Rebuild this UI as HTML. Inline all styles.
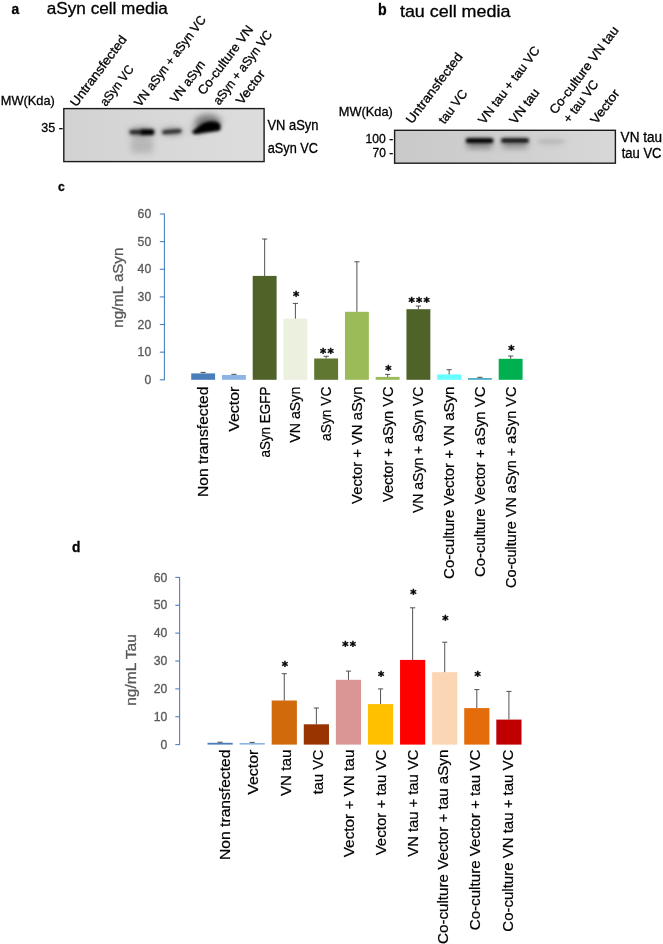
<!DOCTYPE html>
<html><head><meta charset="utf-8"><title>Figure</title>
<style>
html,body{margin:0;padding:0;background:#fff;}
svg{display:block;font-family:"Liberation Sans",sans-serif;}
</style></head><body>
<svg width="663" height="944" viewBox="0 0 663 944">
<defs>
<linearGradient id="ga" x1="0" x2="1" y1="0" y2="0"><stop offset="0" stop-color="#d2d2d2"/><stop offset="0.5" stop-color="#d8d8d8"/><stop offset="1" stop-color="#dddddd"/></linearGradient>
<linearGradient id="gb" x1="0" x2="1" y1="0" y2="0"><stop offset="0" stop-color="#c9c9c9"/><stop offset="0.6" stop-color="#d1d1d1"/><stop offset="1" stop-color="#d8d8d8"/></linearGradient>
<filter id="b2" x="-20%" y="-200%" width="140%" height="500%"><feGaussianBlur stdDeviation="1.5"/></filter>
<filter id="b4" x="-50%" y="-200%" width="200%" height="500%"><feGaussianBlur stdDeviation="3.2"/></filter>
</defs>
<rect width="663" height="944" fill="#fff"/>
<text transform="translate(11.50,13.60) rotate(0)" font-size="14.40" text-anchor="start" fill="#000" stroke="#000" stroke-width="0.3" font-weight="bold" textLength="7.66" lengthAdjust="spacingAndGlyphs">a</text>
<text transform="translate(46.80,13.60) rotate(0)" font-size="16.21" text-anchor="start" fill="#000" stroke="#000" stroke-width="0.3" font-weight="normal" textLength="121.00" lengthAdjust="spacingAndGlyphs">aSyn cell media</text>
<text transform="translate(378.00,15.20) rotate(0)" font-size="15.67" text-anchor="start" fill="#000" stroke="#000" stroke-width="0.3" font-weight="bold" textLength="8.66" lengthAdjust="spacingAndGlyphs">b</text>
<text transform="translate(399.90,17.20) rotate(0)" font-size="16.21" text-anchor="start" fill="#000" stroke="#000" stroke-width="0.3" font-weight="normal" textLength="110.50" lengthAdjust="spacingAndGlyphs">tau cell media</text>
<text transform="translate(58.10,190.50) rotate(0)" font-size="13.44" text-anchor="start" fill="#000" stroke="#000" stroke-width="0.3" font-weight="bold" textLength="6.77" lengthAdjust="spacingAndGlyphs">c</text>
<text transform="translate(72.10,551.90) rotate(0)" font-size="14.40" text-anchor="start" fill="#000" stroke="#000" stroke-width="0.3" font-weight="bold" textLength="8.40" lengthAdjust="spacingAndGlyphs">d</text>
<rect x="64" y="108" width="200" height="53" fill="url(#ga)"/>
<g filter="url(#b4)">
<rect x="131" y="138" width="22" height="15" fill="#000" opacity="0.15"/>
<ellipse cx="142" cy="132" rx="13" ry="4" fill="#000" opacity="0.42"/>
<ellipse cx="172" cy="131.5" rx="11" ry="3.6" fill="#000" opacity="0.36"/>
<ellipse cx="208" cy="122" rx="13" ry="7.5" fill="#000" opacity="0.45"/>
<ellipse cx="198" cy="129" rx="7" ry="5" fill="#000" opacity="0.25"/>
</g>
<g filter="url(#b2)">
<rect x="129.5" y="129.9" width="24.6" height="4.3" rx="2" fill="#262626"/>
<rect x="140" y="129.2" width="14.2" height="5.8" rx="2.2" fill="#000"/>
<rect x="162" y="129.6" width="19.6" height="4.0" rx="2" fill="#2a2a2a" transform="rotate(-5 171.8 131.6)"/>
<path d="M192,131.5 C196,129 200,124 206,122 C212,120.5 219,121 220.5,125 L220.5,130 C216,132 206,132 200,133.6 C196,134.6 192.5,134.3 192,131.5 Z" fill="#000"/>
<ellipse cx="211" cy="126" rx="9" ry="4.2" fill="#000"/>
</g>
<rect x="63.8" y="108.6" width="200.3" height="53" fill="none" stroke="#1c1c1c" stroke-width="1.4"/>
<text transform="translate(0.80,105.10) rotate(0)" font-size="13.16" text-anchor="start" fill="#000" stroke="#000" stroke-width="0.3" font-weight="normal" textLength="54.00" lengthAdjust="spacingAndGlyphs">MW(Kda)</text>
<text transform="translate(41.30,132.10) rotate(0)" font-size="12.60" text-anchor="start" fill="#000" stroke="#000" stroke-width="0.3" font-weight="normal" textLength="21.64" lengthAdjust="spacingAndGlyphs">35 -</text>
<text transform="translate(267.50,130.00) rotate(0)" font-size="13.77" text-anchor="start" fill="#000" stroke="#000" stroke-width="0.3" font-weight="normal" textLength="50.90" lengthAdjust="spacingAndGlyphs">VN aSyn</text>
<text transform="translate(267.80,152.60) rotate(0)" font-size="13.77" text-anchor="start" fill="#000" stroke="#000" stroke-width="0.3" font-weight="normal" textLength="50.20" lengthAdjust="spacingAndGlyphs">aSyn VC</text>
<text transform="translate(76.20,107.50) rotate(-53)" font-size="12.70" text-anchor="start" fill="#000" stroke="#000" stroke-width="0.3" font-weight="normal" textLength="85.12" lengthAdjust="spacingAndGlyphs">Untransfected</text>
<text transform="translate(106.00,107.00) rotate(-53)" font-size="12.70" text-anchor="start" fill="#000" stroke="#000" stroke-width="0.3" font-weight="normal" textLength="47.33" lengthAdjust="spacingAndGlyphs">aSyn VC</text>
<text transform="translate(140.20,107.60) rotate(-53)" font-size="12.70" text-anchor="start" fill="#000" stroke="#000" stroke-width="0.3" font-weight="normal" textLength="110.19" lengthAdjust="spacingAndGlyphs">VN aSyn + aSyn VC</text>
<text transform="translate(176.30,103.70) rotate(-53)" font-size="12.70" text-anchor="start" fill="#000" stroke="#000" stroke-width="0.3" font-weight="normal" textLength="48.98" lengthAdjust="spacingAndGlyphs">VN aSyn</text>
<text transform="translate(203.80,95.80) rotate(-53)" font-size="12.70" text-anchor="start" fill="#000" stroke="#000" stroke-width="0.3" font-weight="normal" textLength="83.06" lengthAdjust="spacingAndGlyphs">Co-culture VN</text>
<text transform="translate(219.20,105.80) rotate(-53)" font-size="12.70" text-anchor="start" fill="#000" stroke="#000" stroke-width="0.3" font-weight="normal" textLength="89.18" lengthAdjust="spacingAndGlyphs">aSyn + aSyn VC</text>
<text transform="translate(242.00,105.50) rotate(-53)" font-size="12.70" text-anchor="start" fill="#000" stroke="#000" stroke-width="0.3" font-weight="normal" textLength="39.41" lengthAdjust="spacingAndGlyphs">Vector</text>
<rect x="394.6" y="130" width="220.8" height="33" fill="url(#gb)"/>
<g filter="url(#b4)">
<rect x="467" y="139" width="25" height="9" fill="#000" opacity="0.40"/>
<rect x="502.5" y="139" width="25" height="9" fill="#000" opacity="0.34"/>
<ellipse cx="551" cy="142" rx="14" ry="3" fill="#000" opacity="0.10"/>
</g>
<g filter="url(#b2)">
<rect x="465.8" y="138.2" width="27.6" height="4.8" rx="2" fill="#000"/>
<rect x="501" y="138.3" width="28" height="4.4" rx="2" fill="#151515"/>
<rect x="538" y="140.3" width="27" height="2" rx="1" fill="#000" opacity="0.10"/>
</g>
<rect x="394.6" y="130.3" width="220.8" height="32.9" fill="none" stroke="#1c1c1c" stroke-width="1.4"/>
<text transform="translate(338.80,115.50) rotate(0)" font-size="13.16" text-anchor="start" fill="#000" stroke="#000" stroke-width="0.3" font-weight="normal" textLength="54.00" lengthAdjust="spacingAndGlyphs">MW(Kda)</text>
<text transform="translate(365.60,142.70) rotate(0)" font-size="12.24" text-anchor="start" fill="#000" stroke="#000" stroke-width="0.3" font-weight="normal" textLength="27.60" lengthAdjust="spacingAndGlyphs">100 -</text>
<text transform="translate(372.60,157.00) rotate(0)" font-size="12.24" text-anchor="start" fill="#000" stroke="#000" stroke-width="0.3" font-weight="normal" textLength="20.60" lengthAdjust="spacingAndGlyphs">70 -</text>
<text transform="translate(620.60,142.30) rotate(0)" font-size="13.77" text-anchor="start" fill="#000" stroke="#000" stroke-width="0.3" font-weight="normal" textLength="41.40" lengthAdjust="spacingAndGlyphs">VN tau</text>
<text transform="translate(621.70,157.80) rotate(0)" font-size="13.77" text-anchor="start" fill="#000" stroke="#000" stroke-width="0.3" font-weight="normal" textLength="39.80" lengthAdjust="spacingAndGlyphs">tau VC</text>
<text transform="translate(412.00,124.60) rotate(-53)" font-size="12.70" text-anchor="start" fill="#000" stroke="#000" stroke-width="0.3" font-weight="normal" textLength="85.12" lengthAdjust="spacingAndGlyphs">Untransfected</text>
<text transform="translate(444.50,124.80) rotate(-53)" font-size="12.70" text-anchor="start" fill="#000" stroke="#000" stroke-width="0.3" font-weight="normal" textLength="38.91" lengthAdjust="spacingAndGlyphs">tau VC</text>
<text transform="translate(484.30,124.90) rotate(-53)" font-size="12.70" text-anchor="start" fill="#000" stroke="#000" stroke-width="0.3" font-weight="normal" textLength="93.34" lengthAdjust="spacingAndGlyphs">VN tau + tau VC</text>
<text transform="translate(515.60,124.90) rotate(-53)" font-size="12.70" text-anchor="start" fill="#000" stroke="#000" stroke-width="0.3" font-weight="normal" textLength="40.56" lengthAdjust="spacingAndGlyphs">VN tau</text>
<text transform="translate(555.50,115.00) rotate(-53)" font-size="12.70" text-anchor="start" fill="#000" stroke="#000" stroke-width="0.3" font-weight="normal" textLength="105.91" lengthAdjust="spacingAndGlyphs">Co-culture VN tau</text>
<text transform="translate(569.20,123.70) rotate(-53)" font-size="12.70" text-anchor="start" fill="#000" stroke="#000" stroke-width="0.3" font-weight="normal" textLength="49.48" lengthAdjust="spacingAndGlyphs">+ tau VC</text>
<text transform="translate(596.50,124.90) rotate(-53)" font-size="12.70" text-anchor="start" fill="#000" stroke="#000" stroke-width="0.3" font-weight="normal" textLength="39.41" lengthAdjust="spacingAndGlyphs">Vector</text>
<line x1="164.40" y1="213.50" x2="164.40" y2="380.30" stroke="#4f81bd" stroke-width="1.1"/>
<line x1="159.80" y1="379.80" x2="164.40" y2="379.80" stroke="#4f81bd" stroke-width="1.1"/>
<text transform="translate(151.20,383.90) rotate(0)" font-size="12.06" text-anchor="end" fill="#595959" stroke="#595959" stroke-width="0.3" font-weight="normal" textLength="6.79" lengthAdjust="spacingAndGlyphs">0</text>
<line x1="159.80" y1="352.17" x2="164.40" y2="352.17" stroke="#4f81bd" stroke-width="1.1"/>
<text transform="translate(151.20,356.27) rotate(0)" font-size="12.06" text-anchor="end" fill="#595959" stroke="#595959" stroke-width="0.3" font-weight="normal" textLength="13.59" lengthAdjust="spacingAndGlyphs">10</text>
<line x1="159.80" y1="324.53" x2="164.40" y2="324.53" stroke="#4f81bd" stroke-width="1.1"/>
<text transform="translate(151.20,328.63) rotate(0)" font-size="12.06" text-anchor="end" fill="#595959" stroke="#595959" stroke-width="0.3" font-weight="normal" textLength="13.59" lengthAdjust="spacingAndGlyphs">20</text>
<line x1="159.80" y1="296.90" x2="164.40" y2="296.90" stroke="#4f81bd" stroke-width="1.1"/>
<text transform="translate(151.20,301.00) rotate(0)" font-size="12.06" text-anchor="end" fill="#595959" stroke="#595959" stroke-width="0.3" font-weight="normal" textLength="13.59" lengthAdjust="spacingAndGlyphs">30</text>
<line x1="159.80" y1="269.27" x2="164.40" y2="269.27" stroke="#4f81bd" stroke-width="1.1"/>
<text transform="translate(151.20,273.37) rotate(0)" font-size="12.06" text-anchor="end" fill="#595959" stroke="#595959" stroke-width="0.3" font-weight="normal" textLength="13.59" lengthAdjust="spacingAndGlyphs">40</text>
<line x1="159.80" y1="241.63" x2="164.40" y2="241.63" stroke="#4f81bd" stroke-width="1.1"/>
<text transform="translate(151.20,245.73) rotate(0)" font-size="12.06" text-anchor="end" fill="#595959" stroke="#595959" stroke-width="0.3" font-weight="normal" textLength="13.59" lengthAdjust="spacingAndGlyphs">50</text>
<line x1="159.80" y1="214.00" x2="164.40" y2="214.00" stroke="#4f81bd" stroke-width="1.1"/>
<text transform="translate(151.20,218.10) rotate(0)" font-size="12.06" text-anchor="end" fill="#595959" stroke="#595959" stroke-width="0.3" font-weight="normal" textLength="13.59" lengthAdjust="spacingAndGlyphs">60</text>
<text transform="translate(123.10,287.70) rotate(-90)" font-size="15.12" text-anchor="middle" fill="#595959" stroke="#595959" stroke-width="0.3" font-weight="normal" textLength="80.00" lengthAdjust="spacingAndGlyphs">ng/mL aSyn</text>
<rect x="191.20" y="373.40" width="23.90" height="6.40" fill="#4a7ebb" />
<line x1="203.15" y1="373.40" x2="203.15" y2="372.40" stroke="#404040" stroke-width="0.9"/>
<line x1="200.55" y1="372.40" x2="205.75" y2="372.40" stroke="#404040" stroke-width="0.9"/>
<rect x="221.95" y="375.00" width="23.90" height="4.80" fill="#8db4e2" />
<line x1="233.90" y1="375.00" x2="233.90" y2="374.30" stroke="#404040" stroke-width="0.9"/>
<line x1="231.30" y1="374.30" x2="236.50" y2="374.30" stroke="#404040" stroke-width="0.9"/>
<rect x="252.70" y="275.90" width="23.90" height="103.90" fill="#4f6228" />
<line x1="264.65" y1="275.90" x2="264.65" y2="239.00" stroke="#404040" stroke-width="0.9"/>
<line x1="262.05" y1="239.00" x2="267.25" y2="239.00" stroke="#404040" stroke-width="0.9"/>
<rect x="283.45" y="318.60" width="23.90" height="61.20" fill="#ebf1de" />
<line x1="295.40" y1="318.60" x2="295.40" y2="303.40" stroke="#404040" stroke-width="0.9"/>
<line x1="292.80" y1="303.40" x2="298.00" y2="303.40" stroke="#404040" stroke-width="0.9"/>
<text x="296.10" y="299.90" font-family="DejaVu Sans, sans-serif" font-size="12" font-weight="bold" text-anchor="middle" fill="#000" stroke="#000" stroke-width="0.45">*</text>
<rect x="314.20" y="358.50" width="23.90" height="21.30" fill="#607731" />
<line x1="326.15" y1="358.50" x2="326.15" y2="356.30" stroke="#404040" stroke-width="0.9"/>
<line x1="323.55" y1="356.30" x2="328.75" y2="356.30" stroke="#404040" stroke-width="0.9"/>
<text x="323.10" y="356.80" font-family="DejaVu Sans, sans-serif" font-size="12" font-weight="bold" text-anchor="middle" fill="#000" stroke="#000" stroke-width="0.45">*</text>
<text x="330.60" y="356.80" font-family="DejaVu Sans, sans-serif" font-size="12" font-weight="bold" text-anchor="middle" fill="#000" stroke="#000" stroke-width="0.45">*</text>
<rect x="344.95" y="311.80" width="23.90" height="68.00" fill="#9bbb59" />
<line x1="356.90" y1="311.80" x2="356.90" y2="261.80" stroke="#404040" stroke-width="0.9"/>
<line x1="354.30" y1="261.80" x2="359.50" y2="261.80" stroke="#404040" stroke-width="0.9"/>
<rect x="375.70" y="376.90" width="23.90" height="2.90" fill="#9bbb59" />
<line x1="387.65" y1="376.90" x2="387.65" y2="374.40" stroke="#404040" stroke-width="0.9"/>
<line x1="385.05" y1="374.40" x2="390.25" y2="374.40" stroke="#404040" stroke-width="0.9"/>
<text x="388.35" y="373.90" font-family="DejaVu Sans, sans-serif" font-size="12" font-weight="bold" text-anchor="middle" fill="#000" stroke="#000" stroke-width="0.45">*</text>
<rect x="406.45" y="309.20" width="23.90" height="70.60" fill="#4f6228" />
<line x1="418.40" y1="309.20" x2="418.40" y2="306.00" stroke="#404040" stroke-width="0.9"/>
<line x1="415.80" y1="306.00" x2="421.00" y2="306.00" stroke="#404040" stroke-width="0.9"/>
<text x="411.60" y="306.40" font-family="DejaVu Sans, sans-serif" font-size="12" font-weight="bold" text-anchor="middle" fill="#000" stroke="#000" stroke-width="0.45">*</text>
<text x="419.10" y="306.40" font-family="DejaVu Sans, sans-serif" font-size="12" font-weight="bold" text-anchor="middle" fill="#000" stroke="#000" stroke-width="0.45">*</text>
<text x="426.60" y="306.40" font-family="DejaVu Sans, sans-serif" font-size="12" font-weight="bold" text-anchor="middle" fill="#000" stroke="#000" stroke-width="0.45">*</text>
<rect x="437.20" y="374.40" width="23.90" height="5.40" fill="#66ffff" />
<line x1="449.15" y1="374.40" x2="449.15" y2="369.70" stroke="#404040" stroke-width="0.9"/>
<line x1="446.55" y1="369.70" x2="451.75" y2="369.70" stroke="#404040" stroke-width="0.9"/>
<rect x="467.95" y="378.00" width="23.90" height="1.80" fill="#4bacc6" />
<line x1="479.90" y1="378.00" x2="479.90" y2="377.30" stroke="#404040" stroke-width="0.9"/>
<line x1="477.30" y1="377.30" x2="482.50" y2="377.30" stroke="#404040" stroke-width="0.9"/>
<rect x="498.70" y="358.80" width="23.90" height="21.00" fill="#00b050" />
<line x1="510.65" y1="358.80" x2="510.65" y2="356.00" stroke="#404040" stroke-width="0.9"/>
<line x1="508.05" y1="356.00" x2="513.25" y2="356.00" stroke="#404040" stroke-width="0.9"/>
<text x="511.35" y="354.20" font-family="DejaVu Sans, sans-serif" font-size="12" font-weight="bold" text-anchor="middle" fill="#000" stroke="#000" stroke-width="0.45">*</text>
<text transform="translate(208.00,386.60) rotate(-90)" font-size="14.91" text-anchor="end" fill="#000" stroke="#000" stroke-width="0.22" font-weight="normal" textLength="110.33" lengthAdjust="spacingAndGlyphs">Non transfected</text>
<text transform="translate(238.75,386.60) rotate(-90)" font-size="14.91" text-anchor="end" fill="#000" stroke="#000" stroke-width="0.22" font-weight="normal" textLength="45.21" lengthAdjust="spacingAndGlyphs">Vector</text>
<text transform="translate(269.50,386.60) rotate(-90)" font-size="14.91" text-anchor="end" fill="#000" stroke="#000" stroke-width="0.22" font-weight="normal" textLength="70.97" lengthAdjust="spacingAndGlyphs">aSyn EGFP</text>
<text transform="translate(300.25,386.60) rotate(-90)" font-size="14.91" text-anchor="end" fill="#000" stroke="#000" stroke-width="0.22" font-weight="normal" textLength="56.20" lengthAdjust="spacingAndGlyphs">VN aSyn</text>
<text transform="translate(331.00,386.60) rotate(-90)" font-size="14.91" text-anchor="end" fill="#000" stroke="#000" stroke-width="0.22" font-weight="normal" textLength="54.30" lengthAdjust="spacingAndGlyphs">aSyn VC</text>
<text transform="translate(361.75,386.60) rotate(-90)" font-size="14.91" text-anchor="end" fill="#000" stroke="#000" stroke-width="0.22" font-weight="normal" textLength="117.32" lengthAdjust="spacingAndGlyphs">Vector + VN aSyn</text>
<text transform="translate(392.50,386.60) rotate(-90)" font-size="14.91" text-anchor="end" fill="#000" stroke="#000" stroke-width="0.22" font-weight="normal" textLength="115.42" lengthAdjust="spacingAndGlyphs">Vector + aSyn VC</text>
<text transform="translate(423.25,386.60) rotate(-90)" font-size="14.91" text-anchor="end" fill="#000" stroke="#000" stroke-width="0.22" font-weight="normal" textLength="126.41" lengthAdjust="spacingAndGlyphs">VN aSyn + aSyn VC</text>
<text transform="translate(454.00,386.60) rotate(-90)" font-size="14.91" text-anchor="end" fill="#000" stroke="#000" stroke-width="0.22" font-weight="normal" textLength="192.29" lengthAdjust="spacingAndGlyphs">Co-culture Vector + VN aSyn</text>
<text transform="translate(484.75,386.60) rotate(-90)" font-size="14.91" text-anchor="end" fill="#000" stroke="#000" stroke-width="0.22" font-weight="normal" textLength="190.40" lengthAdjust="spacingAndGlyphs">Co-culture Vector + aSyn VC</text>
<text transform="translate(515.50,386.60) rotate(-90)" font-size="14.91" text-anchor="end" fill="#000" stroke="#000" stroke-width="0.22" font-weight="normal" textLength="201.39" lengthAdjust="spacingAndGlyphs">Co-culture VN aSyn + aSyn VC</text>
<line x1="179.60" y1="576.90" x2="179.60" y2="745.10" stroke="#4f81bd" stroke-width="1.1"/>
<line x1="175.30" y1="744.60" x2="179.60" y2="744.60" stroke="#4f81bd" stroke-width="1.1"/>
<text transform="translate(167.30,748.70) rotate(0)" font-size="12.06" text-anchor="end" fill="#595959" stroke="#595959" stroke-width="0.3" font-weight="normal" textLength="6.79" lengthAdjust="spacingAndGlyphs">0</text>
<line x1="175.30" y1="716.73" x2="179.60" y2="716.73" stroke="#4f81bd" stroke-width="1.1"/>
<text transform="translate(167.30,720.83) rotate(0)" font-size="12.06" text-anchor="end" fill="#595959" stroke="#595959" stroke-width="0.3" font-weight="normal" textLength="13.59" lengthAdjust="spacingAndGlyphs">10</text>
<line x1="175.30" y1="688.87" x2="179.60" y2="688.87" stroke="#4f81bd" stroke-width="1.1"/>
<text transform="translate(167.30,692.97) rotate(0)" font-size="12.06" text-anchor="end" fill="#595959" stroke="#595959" stroke-width="0.3" font-weight="normal" textLength="13.59" lengthAdjust="spacingAndGlyphs">20</text>
<line x1="175.30" y1="661.00" x2="179.60" y2="661.00" stroke="#4f81bd" stroke-width="1.1"/>
<text transform="translate(167.30,665.10) rotate(0)" font-size="12.06" text-anchor="end" fill="#595959" stroke="#595959" stroke-width="0.3" font-weight="normal" textLength="13.59" lengthAdjust="spacingAndGlyphs">30</text>
<line x1="175.30" y1="633.13" x2="179.60" y2="633.13" stroke="#4f81bd" stroke-width="1.1"/>
<text transform="translate(167.30,637.23) rotate(0)" font-size="12.06" text-anchor="end" fill="#595959" stroke="#595959" stroke-width="0.3" font-weight="normal" textLength="13.59" lengthAdjust="spacingAndGlyphs">40</text>
<line x1="175.30" y1="605.27" x2="179.60" y2="605.27" stroke="#4f81bd" stroke-width="1.1"/>
<text transform="translate(167.30,609.37) rotate(0)" font-size="12.06" text-anchor="end" fill="#595959" stroke="#595959" stroke-width="0.3" font-weight="normal" textLength="13.59" lengthAdjust="spacingAndGlyphs">50</text>
<line x1="175.30" y1="577.40" x2="179.60" y2="577.40" stroke="#4f81bd" stroke-width="1.1"/>
<text transform="translate(167.30,581.50) rotate(0)" font-size="12.06" text-anchor="end" fill="#595959" stroke="#595959" stroke-width="0.3" font-weight="normal" textLength="13.59" lengthAdjust="spacingAndGlyphs">60</text>
<text transform="translate(135.70,670.00) rotate(-90)" font-size="15.12" text-anchor="middle" fill="#595959" stroke="#595959" stroke-width="0.3" font-weight="normal" textLength="71.70" lengthAdjust="spacingAndGlyphs">ng/mL Tau</text>
<rect x="207.50" y="742.80" width="25.20" height="1.80" fill="#4a7ebb" />
<line x1="220.10" y1="742.80" x2="220.10" y2="742.20" stroke="#404040" stroke-width="0.9"/>
<line x1="217.50" y1="742.20" x2="222.70" y2="742.20" stroke="#404040" stroke-width="0.9"/>
<rect x="239.59" y="743.00" width="25.20" height="1.60" fill="#8db4e2" />
<line x1="252.19" y1="743.00" x2="252.19" y2="742.40" stroke="#404040" stroke-width="0.9"/>
<line x1="249.59" y1="742.40" x2="254.79" y2="742.40" stroke="#404040" stroke-width="0.9"/>
<rect x="271.68" y="700.50" width="25.20" height="44.10" fill="#d06a0a" />
<line x1="284.28" y1="700.50" x2="284.28" y2="673.70" stroke="#404040" stroke-width="0.9"/>
<line x1="281.68" y1="673.70" x2="286.88" y2="673.70" stroke="#404040" stroke-width="0.9"/>
<text x="284.98" y="670.20" font-family="DejaVu Sans, sans-serif" font-size="12" font-weight="bold" text-anchor="middle" fill="#000" stroke="#000" stroke-width="0.45">*</text>
<rect x="303.77" y="724.30" width="25.20" height="20.30" fill="#993300" />
<line x1="316.37" y1="724.30" x2="316.37" y2="708.00" stroke="#404040" stroke-width="0.9"/>
<line x1="313.77" y1="708.00" x2="318.97" y2="708.00" stroke="#404040" stroke-width="0.9"/>
<rect x="335.86" y="679.80" width="25.20" height="64.80" fill="#d99694" />
<line x1="348.46" y1="679.80" x2="348.46" y2="671.10" stroke="#404040" stroke-width="0.9"/>
<line x1="345.86" y1="671.10" x2="351.06" y2="671.10" stroke="#404040" stroke-width="0.9"/>
<text x="345.41" y="650.20" font-family="DejaVu Sans, sans-serif" font-size="12" font-weight="bold" text-anchor="middle" fill="#000" stroke="#000" stroke-width="0.45">*</text>
<text x="352.91" y="650.20" font-family="DejaVu Sans, sans-serif" font-size="12" font-weight="bold" text-anchor="middle" fill="#000" stroke="#000" stroke-width="0.45">*</text>
<rect x="367.95" y="704.10" width="25.20" height="40.50" fill="#ffc000" />
<line x1="380.55" y1="704.10" x2="380.55" y2="688.90" stroke="#404040" stroke-width="0.9"/>
<line x1="377.95" y1="688.90" x2="383.15" y2="688.90" stroke="#404040" stroke-width="0.9"/>
<text x="381.25" y="679.90" font-family="DejaVu Sans, sans-serif" font-size="12" font-weight="bold" text-anchor="middle" fill="#000" stroke="#000" stroke-width="0.45">*</text>
<rect x="400.04" y="659.90" width="25.20" height="84.70" fill="#ff0000" />
<line x1="412.64" y1="659.90" x2="412.64" y2="607.80" stroke="#404040" stroke-width="0.9"/>
<line x1="410.04" y1="607.80" x2="415.24" y2="607.80" stroke="#404040" stroke-width="0.9"/>
<text x="413.34" y="597.80" font-family="DejaVu Sans, sans-serif" font-size="12" font-weight="bold" text-anchor="middle" fill="#000" stroke="#000" stroke-width="0.45">*</text>
<rect x="432.13" y="672.20" width="25.20" height="72.40" fill="#fcd5b4" />
<line x1="444.73" y1="672.20" x2="444.73" y2="642.20" stroke="#404040" stroke-width="0.9"/>
<line x1="442.13" y1="642.20" x2="447.33" y2="642.20" stroke="#404040" stroke-width="0.9"/>
<text x="445.43" y="623.80" font-family="DejaVu Sans, sans-serif" font-size="12" font-weight="bold" text-anchor="middle" fill="#000" stroke="#000" stroke-width="0.45">*</text>
<rect x="464.22" y="708.10" width="25.20" height="36.50" fill="#e46c0a" />
<line x1="476.82" y1="708.10" x2="476.82" y2="689.60" stroke="#404040" stroke-width="0.9"/>
<line x1="474.22" y1="689.60" x2="479.42" y2="689.60" stroke="#404040" stroke-width="0.9"/>
<text x="477.52" y="679.90" font-family="DejaVu Sans, sans-serif" font-size="12" font-weight="bold" text-anchor="middle" fill="#000" stroke="#000" stroke-width="0.45">*</text>
<rect x="496.31" y="719.60" width="25.20" height="25.00" fill="#c00000" />
<line x1="508.91" y1="719.60" x2="508.91" y2="691.40" stroke="#404040" stroke-width="0.9"/>
<line x1="506.31" y1="691.40" x2="511.51" y2="691.40" stroke="#404040" stroke-width="0.9"/>
<text transform="translate(230.20,749.60) rotate(-90)" font-size="14.91" text-anchor="end" fill="#000" stroke="#000" stroke-width="0.22" font-weight="normal" textLength="110.33" lengthAdjust="spacingAndGlyphs">Non transfected</text>
<text transform="translate(257.80,749.60) rotate(-90)" font-size="14.91" text-anchor="end" fill="#000" stroke="#000" stroke-width="0.22" font-weight="normal" textLength="45.21" lengthAdjust="spacingAndGlyphs">Vector</text>
<text transform="translate(290.50,749.60) rotate(-90)" font-size="14.91" text-anchor="end" fill="#000" stroke="#000" stroke-width="0.22" font-weight="normal" textLength="46.53" lengthAdjust="spacingAndGlyphs">VN tau</text>
<text transform="translate(323.00,749.60) rotate(-90)" font-size="14.91" text-anchor="end" fill="#000" stroke="#000" stroke-width="0.22" font-weight="normal" textLength="44.64" lengthAdjust="spacingAndGlyphs">tau VC</text>
<text transform="translate(353.70,749.60) rotate(-90)" font-size="14.91" text-anchor="end" fill="#000" stroke="#000" stroke-width="0.22" font-weight="normal" textLength="107.65" lengthAdjust="spacingAndGlyphs">Vector + VN tau</text>
<text transform="translate(385.80,749.60) rotate(-90)" font-size="14.91" text-anchor="end" fill="#000" stroke="#000" stroke-width="0.22" font-weight="normal" textLength="105.76" lengthAdjust="spacingAndGlyphs">Vector + tau VC</text>
<text transform="translate(418.40,749.60) rotate(-90)" font-size="14.91" text-anchor="end" fill="#000" stroke="#000" stroke-width="0.22" font-weight="normal" textLength="107.08" lengthAdjust="spacingAndGlyphs">VN tau + tau VC</text>
<text transform="translate(448.20,749.60) rotate(-90)" font-size="14.91" text-anchor="end" fill="#000" stroke="#000" stroke-width="0.22" font-weight="normal" textLength="194.40" lengthAdjust="spacingAndGlyphs">Co-culture Vector + tau aSyn</text>
<text transform="translate(480.30,749.60) rotate(-90)" font-size="14.91" text-anchor="end" fill="#000" stroke="#000" stroke-width="0.22" font-weight="normal" textLength="180.73" lengthAdjust="spacingAndGlyphs">Co-culture Vector + tau VC</text>
<text transform="translate(513.40,749.60) rotate(-90)" font-size="14.91" text-anchor="end" fill="#000" stroke="#000" stroke-width="0.22" font-weight="normal" textLength="182.06" lengthAdjust="spacingAndGlyphs">Co-culture VN tau + tau VC</text>
</svg>
</body></html>
